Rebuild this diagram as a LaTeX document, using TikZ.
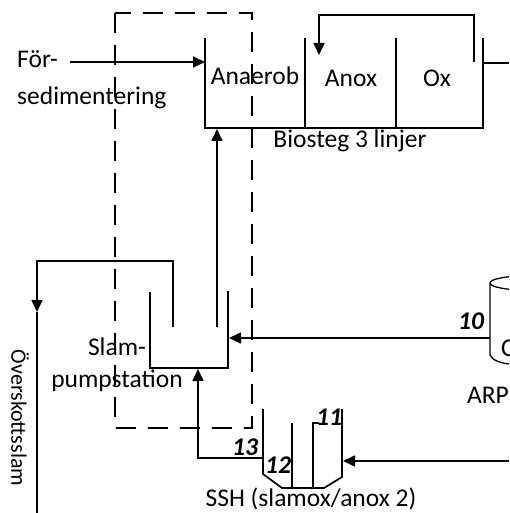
\documentclass[tikz,border=0pt]{standalone}
\usepackage{fontspec}
\setmainfont{Carlito}
\usetikzlibrary{arrows.meta}
\begin{document}
\begin{tikzpicture}[x=1pt,y=-1pt,
  line/.style={line width=1.7pt},
  tip/.style={-{Triangle[length=12pt,width=11pt]}},
  lbl/.style={font=\fontsize{25.5}{30}\selectfont, inner sep=0pt},
  num/.style={font=\fontsize{25.5}{30}\selectfont\bfseries\itshape, inner sep=0pt},
  dashbox/.style={line width=1.4pt, dash pattern=on 20pt off 12pt}]
\useasboundingbox (0,0) rectangle (509,513);
\clip (0,0) rectangle (509,513);

% dashed boundary
\draw[dashbox] (115,13) rectangle (252,428);

% Biosteg tank
\coordinate (bA) at (205,38);
\coordinate (bB) at (205,128);
\coordinate (bC) at (483,128);
\coordinate (bD) at (483,38);
\draw[line] (bA)--(bB)--(bC)--(bD);
\coordinate (w1t) at (305,38); \coordinate (w1b) at (305,128);
\coordinate (w2t) at (396,38); \coordinate (w2b) at (396,128);
\draw[line] (w1t)--(w1b);
\draw[line] (w2t)--(w2b);
\coordinate (outA) at (483,63); \coordinate (outB) at (509,63);
\draw[line] (outA)--(outB);

% recirculation
\coordinate (rc1) at (474,62);
\coordinate (rc2) at (474,15);
\coordinate (rc3) at (319,15);
\coordinate (rc4) at (319,55);
\draw[line,tip] (rc1)--(rc2)--(rc3)--(rc4);

% Försedimentering inflow
\coordinate (fs1) at (70,62);
\coordinate (fs2) at (205,62);
\draw[line,tip] (fs1)--(fs2);

% labels top
\node[lbl,anchor=base west] (tfor) at (17,68) {För-};
\node[lbl,anchor=base west] (tsed) at (17,105) {sedimentering};
\node[lbl,anchor=base] (tana) at (255,85) {Anaerob};
\node[lbl,anchor=base] (tanox) at (351,87) {Anox};
\node[lbl,anchor=base] (tox) at (437,87) {Ox};
\node[lbl,anchor=base] (tbio) at (350,147) {Biosteg 3 linjer};

% Slampumpstation tank
\coordinate (sp1) at (150,292);
\coordinate (sp2) at (150,368);
\coordinate (sp3) at (228,368);
\coordinate (sp4) at (228,291);
\draw[line] (sp1)--(sp2)--(sp3)--(sp4);
\node[lbl,anchor=base] (tslam) at (117,355) {Slam-};
\node[lbl,anchor=base] (tpump) at (117,387) {pumpstation};

% pipe to biosteg
\coordinate (up1) at (217,327);
\coordinate (up2) at (217,129);
\draw[line,tip] (up1)--(up2);

% excess sludge
\coordinate (ex1) at (173,327);
\coordinate (ex2) at (173,261);
\coordinate (ex3) at (37,261);
\coordinate (ex4) at (37,312);
\coordinate (ex5) at (37,513);
\draw[line,tip] (ex1)--(ex2)--(ex3)--(ex4);
\draw[line] (ex4)--(ex5);
\node[lbl,font=\fontsize{22}{26}\selectfont,rotate=-90] (tover) at (20,418) {Överskottsslam};

% ARP
\coordinate (arpL) at (490,338);
\coordinate (arpT) at (490,283);
\coordinate (arpB) at (490,355);
\coordinate (arpE) at (525,283);
\draw[line,line width=1.3pt] (arpT)--(arpB) .. controls (492,360) and (500,363) .. (509,364);
\draw[line,line width=1.3pt] (arpE) ellipse (35pt and 7pt);
\node[lbl,anchor=base west] (tarpc) at (501,356) {C};
\node[lbl,anchor=base] (tarp) at (488,403) {ARP};
\coordinate (sp5) at (229,338);
\draw[line,tip] (arpL)--(sp5);
\node[num,anchor=base] (n10) at (471,329) {10};

% SSH
\coordinate (s1) at (263,409);
\coordinate (s2) at (263,474);
\coordinate (s3) at (282,488);
\coordinate (s4) at (324,488);
\coordinate (s5) at (342,477);
\coordinate (s6) at (342,409);
\draw[line] (s1)--(s2)--(s3)--(s4)--(s5)--(s6);
\coordinate (i1t) at (292,423); \coordinate (i1b) at (292,488);
\draw[line] (i1t)--(i1b);
\coordinate (i2s) at (319,423); \coordinate (i2t) at (313,423); \coordinate (i2b) at (313,488);
\draw[line] (i2s)--(i2t)--(i2b);
\coordinate (sshIn) at (509,461);
\coordinate (sshR) at (343,461);
\draw[line,tip] (sshIn)--(sshR);
\coordinate (p13a) at (263,458);
\coordinate (p13b) at (198,458);
\coordinate (p13c) at (198,369);
\draw[line,tip] (p13a)--(p13b)--(p13c);
\node[num,anchor=base] (n13) at (245,455) {13};
\node[num,anchor=base] (n12) at (278,473) {12};
\node[num,anchor=base] (n11) at (329,425) {11};
\node[lbl,anchor=base] (tssh) at (311,506) {SSH (slamox/anox 2)};
\end{tikzpicture}
\end{document}
